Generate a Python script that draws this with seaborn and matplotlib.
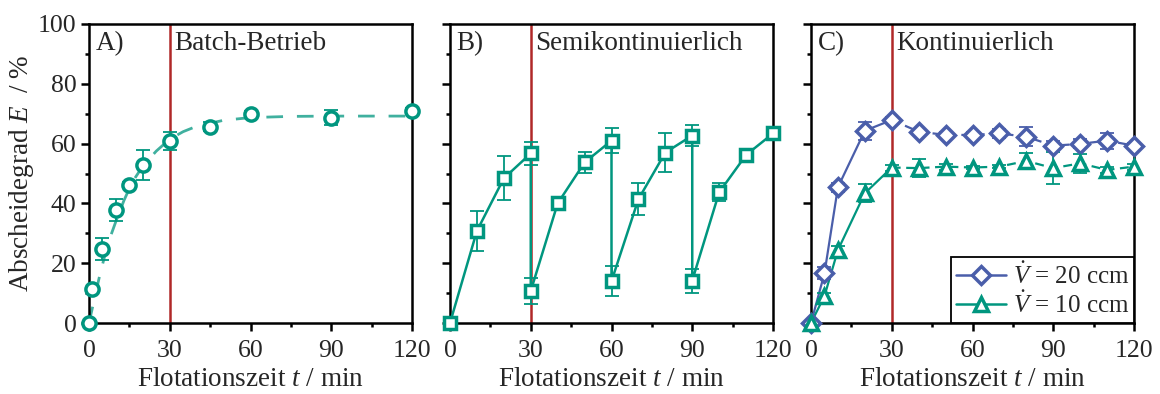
import matplotlib
matplotlib.use("Agg")
import matplotlib.pyplot as plt
from matplotlib.lines import Line2D
from matplotlib.ticker import MultipleLocator
import seaborn as sns
import numpy as np

# ---------------- data ----------------
# Panel A: batch operation
a_t = [0, 1, 5, 10, 15, 20, 30, 45, 60, 90, 120]
a_E = [0, 11.4, 24.7, 37.9, 46.2, 52.7, 60.8, 65.7, 69.9, 68.7, 71.0]
a_err = [0, 1.0, 3.6, 3.7, 1.0, 5.0, 3.0, 1.5, 1.0, 2.5, 1.0]
# dashed fit curve in panel A
fit_t = [0, 2, 4, 6, 8, 10, 13, 16, 20, 25, 30, 35, 40, 50, 60, 75, 90, 105, 120]
fit_E = [0, 8, 16, 23, 29, 34, 41, 47, 52.5, 57.5, 61.5, 64, 65.8, 67.8, 68.7, 69.1, 69.2, 69.2, 69.2]

# Panel B: semi-continuous
b_t = [0, 10, 20, 30, 30, 40, 50, 60, 60, 70, 80, 90, 90, 100, 110, 120]
b_E = [0, 30.8, 48.4, 56.7, 10.7, 40.0, 53.7, 61.0, 14.0, 41.4, 57.0, 62.7, 14.2, 43.7, 56.2, 63.4]
b_err = [0, 6.7, 7.4, 4.0, 4.4, 1.5, 3.5, 4.2, 4.9, 5.3, 6.4, 3.5, 4.0, 3.0, 1.0, 1.0]

# Panel C: continuous
c_t = [0, 5, 10, 20, 30, 40, 50, 60, 70, 80, 90, 100, 110, 120]
c20_E = [0, 16.6, 45.4, 64.3, 67.9, 64.0, 62.9, 62.9, 63.4, 62.3, 59.3, 59.9, 61.0, 59.3]
c20_err = [0, 2.0, 1.5, 3.0, 1.0, 0.5, 1.0, 1.0, 1.5, 3.2, 1.5, 1.5, 2.7, 1.0]
c10_E = [0, 9.0, 24.4, 43.4, 52.0, 51.8, 52.3, 52.0, 52.3, 54.2, 51.8, 53.4, 51.2, 52.3]
c10_err = [0, 1.0, 1.5, 3.0, 1.0, 3.0, 1.0, 0.5, 0.5, 2.5, 5.4, 3.2, 1.0, 1.0]

panel_letters = ["A)", "B)", "C)"]
panel_titles = ["Batch-Betrieb", "Semikontinuierlich", "Kontinuierlich"]
legend_labels = [r"$\dot{V}$ = 20 ccm", r"$\dot{V}$ = 10 ccm"]
xlabel = r"Flotationszeit $t$ / min"
ylabel = r"Abscheidegrad $E$  / %"
t_switch = 30

# ---------------- style ----------------
sns.set_theme(style="ticks")
plt.rcParams["font.family"] = ["Liberation Serif", "DejaVu Serif"]
plt.rcParams["mathtext.fontset"] = "custom"
plt.rcParams["mathtext.rm"] = "Liberation Serif"
plt.rcParams["mathtext.it"] = "Liberation Serif:italic"
plt.rcParams["mathtext.bf"] = "Liberation Serif:bold"

teal = "#00967F"
blue = "#4A5EAA"
red = "#B02828"

FS_TICK = 18.5
FS_LAB = 19.5

fig = plt.figure(figsize=(11.6, 3.94), dpi=100)
W, H = 1160, 394
lefts = [89, 450, 811]
axes = []
for l in lefts:
    ax = fig.add_axes([l / W, (H - 323) / H, 323 / W, 299 / H])
    axes.append(ax)

for i, ax in enumerate(axes):
    ax.set_xlim(0, 120)
    ax.set_ylim(0, 100)
    ax.xaxis.set_major_locator(MultipleLocator(30))
    ax.xaxis.set_minor_locator(MultipleLocator(15))
    ax.yaxis.set_major_locator(MultipleLocator(20))
    ax.yaxis.set_minor_locator(MultipleLocator(10))
    ax.tick_params(which="major", direction="out", length=6, width=1.8,
                   labelsize=FS_TICK, color="black", pad=3)
    ax.tick_params(axis="x", which="major", pad=6)
    ax.tick_params(which="minor", direction="out", length=3, width=1.8, color="black")
    ax.tick_params(top=False, right=False)
    for s in ax.spines.values():
        s.set_linewidth(1.8)
        s.set_color("black")
        s.set_visible(True)
    ax.axvline(t_switch, color=red, lw=1.8, zorder=1)
    ax.set_xlabel(xlabel, fontsize=FS_LAB, labelpad=4)
    if i > 0:
        ax.set_yticklabels([])
    ax.text(0.02, 0.975, panel_letters[i], transform=ax.transAxes,
            fontsize=FS_LAB, va="top", ha="left")
    ax.text(t_switch + 1.8, 97.5, panel_titles[i], fontsize=FS_LAB, va="top", ha="left")

axes[0].set_ylabel(ylabel, fontsize=FS_LAB, labelpad=1)

# ---------------- panel A ----------------
ax = axes[0]
sns.lineplot(x=fit_t, y=fit_E, ax=ax, color=teal, alpha=0.75, lw=2.0,
             linestyle=(0, (6, 5)), estimator=None, sort=False, zorder=2)
ax.errorbar(a_t, a_E, yerr=a_err, fmt="none", ecolor=teal, elinewidth=1.3,
            capsize=5, capthick=1.3, zorder=3)
sns.lineplot(x=a_t, y=a_E, ax=ax, color=teal, linestyle="none", marker="o",
             markersize=9.5, markerfacecolor="white", markeredgecolor=teal,
             markeredgewidth=2.5, estimator=None, sort=False, zorder=4, clip_on=False)

# ---------------- panel B ----------------
ax = axes[1]
ax.errorbar(b_t, b_E, yerr=b_err, fmt="none", ecolor=teal, elinewidth=1.3,
            capsize=5, capthick=1.3, zorder=3)
sns.lineplot(x=b_t, y=b_E, ax=ax, color=teal, lw=1.8, marker="s",
             markersize=8.5, markerfacecolor="white", markeredgecolor=teal,
             markeredgewidth=2.5, estimator=None, sort=False, zorder=4, clip_on=False)

# ---------------- panel C ----------------
ax = axes[2]
c_t_arr = np.array(c_t)
first = c_t_arr <= t_switch
second = c_t_arr >= t_switch
for E, err, col, mk, ms in [(c20_E, c20_err, blue, "D", 9), (c10_E, c10_err, teal, "^", 10.5)]:
    E = np.array(E)
    sns.lineplot(x=c_t_arr[first], y=E[first], ax=ax, color=col, lw=1.6,
                 estimator=None, sort=False, zorder=2)
    sns.lineplot(x=c_t_arr[second], y=E[second], ax=ax, color=col, lw=1.6,
                 linestyle=(0, (4, 2.5)), estimator=None, sort=False, zorder=2)
    ax.errorbar(c_t, E, yerr=err, fmt="none", ecolor=col, elinewidth=1.3,
                capsize=5, capthick=1.3, zorder=3)
    sns.lineplot(x=c_t, y=E, ax=ax, color=col, linestyle="none", marker=mk,
                 markersize=ms, markerfacecolor="white", markeredgecolor=col,
                 markeredgewidth=2.5, estimator=None, sort=False, zorder=4, clip_on=False)

handles = [
    Line2D([], [], color=blue, lw=1.8, marker="D", markersize=9,
           markerfacecolor="white", markeredgecolor=blue, markeredgewidth=2.5),
    Line2D([], [], color=teal, lw=1.8, marker="^", markersize=10.5,
           markerfacecolor="white", markeredgecolor=teal, markeredgewidth=2.5),
]
leg = ax.legend(handles, legend_labels, loc="lower right", fontsize=18,
                frameon=True, fancybox=False, borderaxespad=0, handlelength=2.0,
                handletextpad=0.25, borderpad=0.2, labelspacing=0.1)
leg.get_frame().set_edgecolor("black")
leg.get_frame().set_linewidth(1.3)
leg.get_frame().set_alpha(1)
leg.set_zorder(10)

fig.savefig("out.png", dpi=100)
